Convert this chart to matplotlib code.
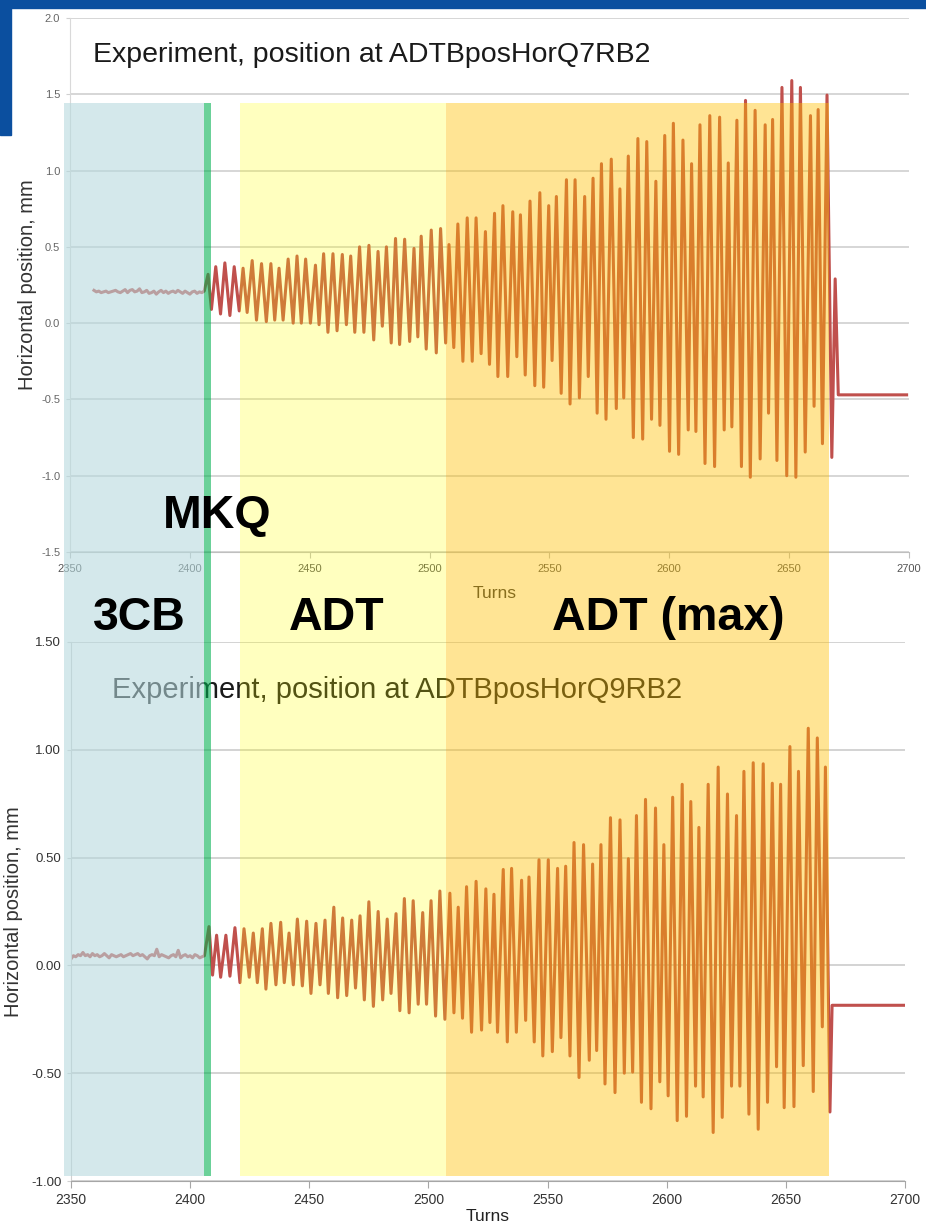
import numpy as np
import matplotlib
matplotlib.use("Agg")
import matplotlib.pyplot as plt
from matplotlib.patches import Rectangle

plt.rcParams['font.family'] = ['Liberation Sans', 'DejaVu Sans']

W, H = 926, 1229

# ---- data: ADTBposHorQ7RB2 (top) ----
q7_base_start = 2360
q7_base = [0.215, 0.205, 0.21, 0.20, 0.205, 0.21, 0.20, 0.205, 0.21, 0.215,
           0.205, 0.20, 0.21, 0.22, 0.20, 0.215, 0.22, 0.205, 0.21, 0.225,
           0.20, 0.205, 0.215, 0.195, 0.20, 0.21, 0.19, 0.205, 0.215, 0.20,
           0.21, 0.195, 0.205, 0.21, 0.20, 0.215, 0.205, 0.195, 0.21, 0.20,
           0.19, 0.205, 0.21, 0.195, 0.205, 0.20, 0.21]
q7_turns = [2407.6, 2409.0, 2410.8, 2412.8, 2414.6, 2416.7, 2418.5, 2420.6, 2422.2, 2423.9,
            2426.0, 2427.8, 2429.9, 2431.9, 2433.8, 2435.4, 2437.2, 2438.9, 2441.0, 2443.1,
            2444.7, 2446.5, 2448.3, 2450.3, 2452.4, 2453.9, 2455.8, 2457.6, 2459.7, 2461.4,
            2463.6, 2465.3, 2467.1, 2468.8, 2470.8, 2472.6, 2474.7, 2476.7, 2478.5, 2480.3,
            2482.0, 2484.0, 2485.8, 2487.5, 2489.6, 2491.7, 2493.5, 2495.1, 2496.5, 2498.6,
            2500.7, 2502.8, 2504.6, 2506.7, 2508.1, 2510.1, 2511.8, 2513.9, 2515.7, 2517.8,
            2519.4, 2521.5, 2523.3, 2525.0, 2527.1, 2528.5, 2530.6, 2532.6, 2534.7, 2536.4,
            2537.9, 2539.9, 2541.9, 2543.9, 2546.0, 2547.6, 2549.7, 2551.1, 2552.9, 2554.9,
            2557.1, 2558.6, 2560.7, 2562.5, 2564.7, 2566.2, 2568.2, 2569.9, 2571.7, 2573.6,
            2575.8, 2577.9, 2579.4, 2581.0, 2582.9, 2585.0, 2586.9, 2588.9, 2590.6, 2592.6,
            2594.4, 2596.1, 2598.1, 2600.1, 2601.7, 2603.9, 2605.7, 2607.9, 2609.3, 2611.1,
            2612.8, 2614.9, 2616.9, 2618.9, 2621.0, 2622.9, 2624.6, 2626.1, 2628.2, 2630.1,
            2631.8, 2633.8, 2635.8, 2637.9, 2640.0, 2641.4, 2643.1, 2644.9, 2647.0, 2649.0,
            2651.1, 2652.8, 2654.7, 2656.7, 2658.9, 2660.4, 2662.1, 2663.9, 2665.8, 2667.8,
            2669.2, 2670.5, 2699.0]
q7_pos = [0.32, 0.09, 0.37, 0.06, 0.395, 0.05, 0.37, 0.08, 0.36, 0.07,
          0.41, 0.02, 0.39, 0.01, 0.39, 0.02, 0.36, 0.02, 0.42, 0.00,
          0.44, 0.00, 0.42, 0.00, 0.38, -0.01, 0.455, -0.06, 0.455, -0.05,
          0.45, -0.01, 0.44, -0.06, 0.50, -0.06, 0.51, -0.11, 0.47, -0.02,
          0.50, -0.13, 0.555, -0.14, 0.55, -0.12, 0.49, -0.09, 0.57, -0.17,
          0.61, -0.195, 0.62, -0.13, 0.515, -0.16, 0.65, -0.25, 0.69, -0.25,
          0.69, -0.20, 0.60, -0.27, 0.72, -0.35, 0.77, -0.35, 0.73, -0.22,
          0.71, -0.34, 0.80, -0.41, 0.855, -0.42, 0.77, -0.245, 0.83, -0.46,
          0.94, -0.53, 0.94, -0.49, 0.83, -0.35, 0.95, -0.59, 1.045, -0.63,
          1.075, -0.56, 0.88, -0.49, 1.095, -0.75, 1.21, -0.76, 1.19, -0.63,
          0.93, -0.67, 1.23, -0.84, 1.31, -0.86, 1.20, -0.70, 1.045, -0.71,
          1.30, -0.92, 1.36, -0.94, 1.35, -0.70, 1.05, -0.68, 1.33, -0.94,
          1.46, -1.01, 1.395, -0.89, 1.30, -0.59, 1.335, -0.90, 1.545, -1.00,
          1.59, -1.01, 1.545, -0.845, 1.36, -0.545, 1.40, -0.79, 1.495, -0.88,
          0.29, -0.47, -0.47]

# ---- data: ADTBposHorQ9RB2 (bottom) ----
q9_base_start = 2350
q9_base = [0.03, 0.045, 0.04, 0.05, 0.045, 0.06, 0.045, 0.05, 0.04, 0.055,
           0.045, 0.05, 0.04, 0.045, 0.055, 0.045, 0.035, 0.05, 0.045, 0.04,
           0.045, 0.05, 0.04, 0.045, 0.05, 0.055, 0.045, 0.05, 0.055, 0.045,
           0.05, 0.04, 0.03, 0.045, 0.05, 0.045, 0.075, 0.04, 0.05, 0.045,
           0.04, 0.035, 0.045, 0.05, 0.04, 0.07, 0.035, 0.045, 0.05, 0.04,
           0.045, 0.035, 0.05, 0.045, 0.035, 0.04, 0.045]
q9_turns = [2407.9, 2409.4, 2411.1, 2412.8, 2415.0, 2416.7, 2418.8, 2420.9, 2422.6, 2424.8,
            2426.5, 2428.2, 2430.3, 2431.8, 2433.9, 2436.0, 2438.0, 2439.5, 2441.5, 2443.3,
            2445.0, 2447.1, 2448.9, 2450.7, 2452.8, 2454.5, 2456.6, 2458.0, 2460.3, 2461.9,
            2464.0, 2465.7, 2467.8, 2469.4, 2471.3, 2473.1, 2475.0, 2476.9, 2478.9, 2480.8,
            2482.7, 2484.3, 2486.4, 2488.0, 2489.9, 2491.9, 2493.6, 2495.7, 2497.6, 2499.2,
            2501.1, 2503.0, 2504.8, 2506.9, 2509.0, 2510.7, 2512.5, 2514.3, 2516.0, 2518.1,
            2520.0, 2522.3, 2524.1, 2525.8, 2527.5, 2529.0, 2531.4, 2533.1, 2534.9, 2536.9,
            2539.1, 2540.8, 2542.2, 2544.4, 2546.4, 2548.0, 2550.3, 2552.0, 2554.2, 2555.6,
            2557.6, 2559.4, 2561.1, 2563.2, 2565.1, 2567.5, 2568.9, 2570.6, 2572.4, 2574.1,
            2576.4, 2578.3, 2580.4, 2582.2, 2583.9, 2585.7, 2587.3, 2589.4, 2591.1, 2593.4,
            2595.3, 2597.1, 2598.8, 2600.6, 2602.5, 2604.4, 2606.5, 2608.3, 2610.1, 2612.1,
            2613.5, 2615.3, 2617.4, 2619.5, 2621.6, 2623.3, 2625.5, 2627.2, 2629.3, 2630.7,
            2632.4, 2634.5, 2636.3, 2638.4, 2640.5, 2642.3, 2644.3, 2646.1, 2647.8, 2649.3,
            2651.7, 2653.4, 2655.3, 2657.3, 2659.4, 2661.5, 2663.2, 2665.3, 2666.6, 2668.5,
            2669.4, 2700.0]
q9_pos = [0.18, -0.045, 0.14, -0.055, 0.14, -0.05, 0.175, -0.08, 0.17, -0.055,
          0.15, -0.08, 0.17, -0.11, 0.195, -0.09, 0.20, -0.08, 0.15, -0.09,
          0.215, -0.095, 0.205, -0.13, 0.195, -0.09, 0.21, -0.13, 0.27, -0.15,
          0.22, -0.14, 0.21, -0.105, 0.23, -0.16, 0.295, -0.19, 0.25, -0.16,
          0.215, -0.13, 0.24, -0.21, 0.31, -0.22, 0.30, -0.18, 0.245, -0.18,
          0.30, -0.235, 0.345, -0.25, 0.335, -0.22, 0.27, -0.245, 0.365, -0.31,
          0.39, -0.30, 0.355, -0.265, 0.33, -0.31, 0.445, -0.355, 0.45, -0.31,
          0.395, -0.255, 0.41, -0.355, 0.49, -0.42, 0.49, -0.40, 0.45, -0.335,
          0.46, -0.42, 0.57, -0.52, 0.56, -0.44, 0.47, -0.395, 0.56, -0.55,
          0.685, -0.59, 0.675, -0.50, 0.495, -0.495, 0.695, -0.635, 0.77, -0.665,
          0.73, -0.54, 0.56, -0.605, 0.78, -0.72, 0.84, -0.70, 0.76, -0.56,
          0.64, -0.61, 0.84, -0.775, 0.92, -0.705, 0.795, -0.56, 0.695, -0.56,
          0.90, -0.69, 0.94, -0.76, 0.935, -0.635, 0.845, -0.47, 0.84, -0.66,
          1.015, -0.655, 0.90, -0.465, 1.10, -0.585, 1.055, -0.285, 0.92, -0.68,
          -0.185, -0.185]

# ---- shaded phases ----
phase_labels = ['3CB', 'MKQ', 'ADT', 'ADT (max)']
phase_start = [2347.1, 2405.8, 2420.9, 2507.4]
phase_end = [2405.8, 2408.8, 2507.4, 2668.1]
phase_colors = ['#b5d9de', '#00b050', '#ffff00', '#ffc000']
phase_alpha = [0.58, 0.58, 0.25, 0.42]

line_color = '#c0504d'

fig = plt.figure(figsize=(W / 100, H / 100), dpi=100)


def px_axes(x0, x1, ytop, ybot, **kw):
    return fig.add_axes([x0 / W, 1 - ybot / H, (x1 - x0) / W, (ybot - ytop) / H], **kw)


# ---------- top panel ----------
ax1 = px_axes(70, 909, 18, 552)
t7 = np.concatenate([q7_base_start + np.arange(len(q7_base)), q7_turns])
p7 = np.concatenate([q7_base, q7_pos])
ax1.plot(t7, p7, color=line_color, lw=2.2, solid_joinstyle='round')
ax1.set_xlim(2350, 2700)
ax1.set_ylim(-1.5, 2.0)
ax1.set_xticks(np.arange(2350, 2701, 50))
ax1.set_yticks(np.arange(-1.5, 2.01, 0.5))
ax1.set_yticklabels(['%.1f' % v for v in np.arange(-1.5, 2.01, 0.5)])
ax1.grid(axis='y', color='#d0d0d0', lw=1.2)
ax1.set_axisbelow(True)
for s in ['top', 'right']:
    ax1.spines[s].set_visible(False)
ax1.spines['left'].set_color('#d9d9d9')
ax1.spines['bottom'].set_color('#bfbfbf')
ax1.tick_params(axis='x', labelsize=8, colors='#bfbfbf', labelcolor='#555555', length=4, pad=5)
ax1.tick_params(axis='y', labelsize=8, colors='#d0d0d0', labelcolor='#666666', length=3, pad=4)
ax1.text(0.027, 0.931, 'Experiment, position at ADTBposHorQ7RB2', transform=ax1.transAxes,
         fontsize=20.5, va='center', ha='left', color='#1a1a1a')
ax1.text(0.5066, -0.077, 'Turns', transform=ax1.transAxes, fontsize=12.5,
         ha='center', va='center', color='#333333')
ax1.set_ylabel('Horizontal position, mm', fontsize=14.5, color='#333333')
ax1.yaxis.set_label_coords(-0.039, 0.5)

# ---------- bottom panel ----------
ax2 = px_axes(71, 905, 642, 1181)
t9 = np.concatenate([q9_base_start + np.arange(len(q9_base)), q9_turns])
p9 = np.concatenate([q9_base, q9_pos])
ax2.plot(t9, p9, color=line_color, lw=2.2, solid_joinstyle='round')
ax2.set_xlim(2350, 2700)
ax2.set_ylim(-1.0, 1.5)
ax2.set_xticks(np.arange(2350, 2701, 50))
ax2.set_yticks(np.arange(-1.0, 1.51, 0.5))
ax2.set_yticklabels(['%.2f' % v for v in np.arange(-1.0, 1.51, 0.5)])
ax2.grid(axis='y', color='#c8c8c8', lw=1.1)
ax2.set_axisbelow(True)
for s in ['top', 'right']:
    ax2.spines[s].set_visible(False)
ax2.spines['left'].set_color('#d0d0d0')
ax2.spines['bottom'].set_color('#a6a6a6')
ax2.tick_params(axis='x', labelsize=10, colors='#a6a6a6', labelcolor='#333333', length=5, pad=4)
ax2.tick_params(axis='y', labelsize=9.5, colors='#d0d0d0', labelcolor='#333333', length=3, pad=4)
ax2.text(0.049, 0.911, 'Experiment, position at ADTBposHorQ9RB2', transform=ax2.transAxes,
         fontsize=21, va='center', ha='left', color='#1a1a1a')
ax2.set_xlabel('Turns', fontsize=12.5, color='#222222', labelpad=1)
ax2.set_ylabel('Horizontal position, mm', fontsize=14.5, color='#333333')
ax2.yaxis.set_label_coords(-0.057, 0.5)

# ---------- translucent phase overlay across both panels ----------
ov = fig.add_axes([0, 0, 1, 1], zorder=1)
ov.patch.set_visible(False)
ov.axis('off')
sc = 834 / 350.0
ov.set_xlim(2350 - 71 / sc, 2350 + (W - 71) / sc)
ov.set_ylim(0, 1)
for s, e, c, a in zip(phase_start, phase_end, phase_colors, phase_alpha):
    ov.axvspan(s, e, ymin=1 - 1176 / H, ymax=1 - 103 / H, color=c, alpha=a, lw=0)

# ---------- big phase labels ----------
lab_x = [139, 217, 337, 668]
lab_y = [630, 528, 630, 630]
for name, lx, ly in zip(phase_labels, lab_x, lab_y):
    fig.text(lx / W, 1 - ly / H, name, fontsize=33.5, fontweight='bold',
             ha='center', va='baseline', color='black', zorder=5)

# ---------- slide banner ----------
fig.patches.append(Rectangle((0, 1 - 8 / H), 1, 8 / H, transform=fig.transFigure,
                             color='#0b4f9f', zorder=6))
fig.patches.append(Rectangle((0, 1 - 135 / H), 11 / W, 135 / H, transform=fig.transFigure,
                             color='#0b4f9f', zorder=6))

fig.savefig('out.png', dpi=100)
